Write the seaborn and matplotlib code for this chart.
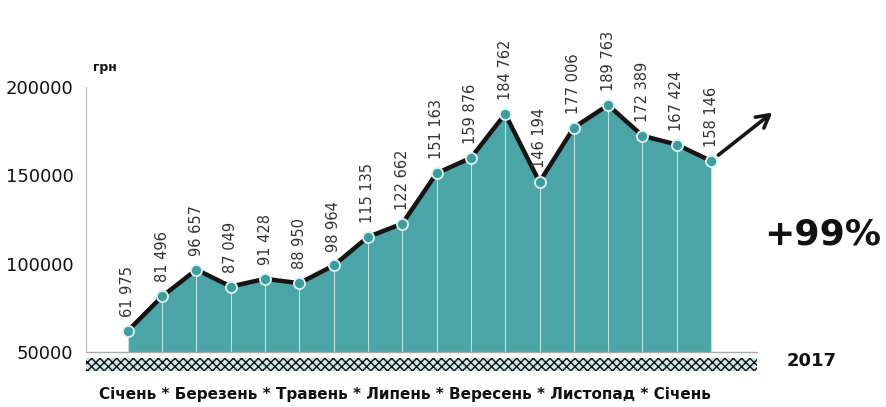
import matplotlib.pyplot as plt
import numpy as np
import pandas as pd
import seaborn as sns
from matplotlib.patches import Rectangle

# values per month (грн)
values = [61975, 81496, 96657, 87049, 91428, 88950, 98964, 115135, 122662,
          151163, 159876, 184762, 146194, 177006, 189763, 172389, 167424, 158146]
value_labels = ["61 975", "81 496", "96 657", "87 049", "91 428", "88 950", "98 964",
                "115 135", "122 662", "151 163", "159 876", "184 762", "146 194",
                "177 006", "189 763", "172 389", "167 424", "158 146"]
y_ticks = [50000, 100000, 150000, 200000]
month_line = "Січень * Березень * Травень * Липень * Вересень * Листопад * Січень"
year_label = "2017"
growth_label = "+99%"
unit_label = "грн"

fill_color = "#4ba4a5"
line_color = "#151515"

df = pd.DataFrame({"idx": np.arange(len(values)), "value": values})

sns.set_style("white")
plt.rcParams["font.family"] = ["DejaVu Sans"]

fig = plt.figure(figsize=(8.86, 4.07), dpi=100)
ax = fig.add_axes([86 / 886, 1 - 352 / 407, (757 - 86) / 886, (352 - 87) / 407])

ax.fill_between(df["idx"], 50000, df["value"], color=fill_color, linewidth=0, zorder=1)
ax.vlines(df["idx"], 50000, df["value"], color="#bfe3e3", linewidth=0.8, zorder=2)

sns.lineplot(data=df, x="idx", y="value", ax=ax, color=line_color, linewidth=3.2,
             zorder=3, legend=False)
ax.plot(df["idx"], df["value"], linestyle="none", marker="o", markersize=8,
        markerfacecolor="#3f9c9d", markeredgecolor="#d8f2f2", markeredgewidth=1.3,
        zorder=4)

for i, (v, lab) in enumerate(zip(values, value_labels)):
    ax.annotate(lab, (i, v), xytext=(0, 10), textcoords="offset points",
                rotation=90, ha="center", va="bottom", fontsize=10.5,
                color="#333333", annotation_clip=False)

# arrow continuing the trend
ax.annotate("", xy=(18.85, 186500), xytext=(17.15, 160500),
            arrowprops=dict(arrowstyle="->,head_length=0.9,head_width=0.5",
                            color=line_color, lw=2.6),
            annotation_clip=False)

ax.set_xlim(-1.22, 18.34)
ax.set_ylim(50000, 200000)
ax.set_yticks(y_ticks)
ax.set_yticklabels([str(t) for t in y_ticks], fontsize=13, color="#111111")
ax.set_xticks([])
ax.set_xlabel("")
ax.set_ylabel("")
ax.tick_params(axis="y", length=4, color="#aaaaaa", pad=5)
for s in ["top", "right"]:
    ax.spines[s].set_visible(False)
ax.spines["left"].set_color("#bbbbbb")
ax.spines["left"].set_linewidth(0.8)
ax.spines["bottom"].set_color("#aaaaaa")
ax.spines["bottom"].set_linewidth(1.0)

# ornament band below the axis
band = Rectangle((86 / 886, 1 - 371 / 407), (757 - 86) / 886, 13 / 407,
                 transform=fig.transFigure, facecolor="#cfe9e9",
                 edgecolor="#111111", hatch="xxxx", linewidth=0)
fig.patches.append(band)

fig.text(93 / 886, 1 - 68 / 407, unit_label, fontsize=9, fontweight="bold",
         ha="left", va="center", color="#111111")
fig.text(405 / 886, 1 - 394 / 407, month_line, fontsize=11, fontweight="bold",
         ha="center", va="center", color="#111111")
fig.text(812 / 886, 1 - 361 / 407, year_label, fontsize=13, fontweight="bold",
         ha="center", va="center", color="#111111")
fig.text(823 / 886, 1 - 235 / 407, growth_label, fontsize=26, fontweight="bold",
         ha="center", va="center", color="#111111")

fig.savefig("out.png", dpi=100)
